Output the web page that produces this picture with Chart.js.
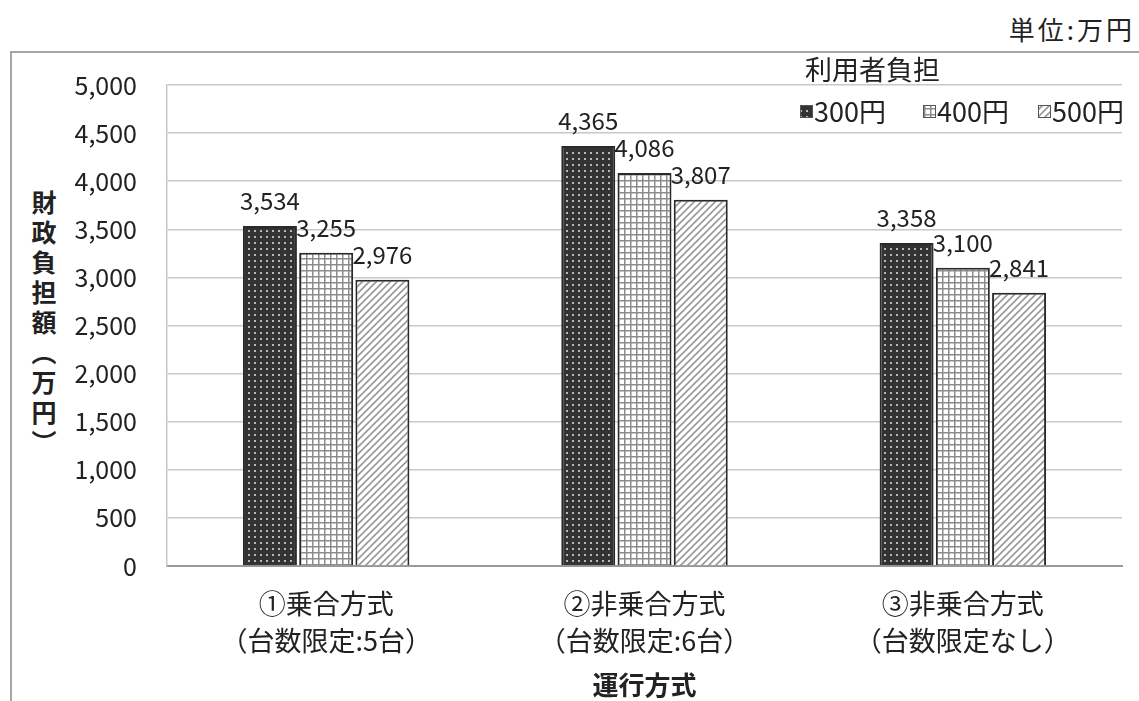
<!DOCTYPE html>
<html>
<head>
<meta charset="utf-8">
<script src="https://cdn.jsdelivr.net/npm/chart.js@4/dist/chart.umd.min.js"></script>
<style>
  html, body { margin: 0; padding: 0; background: #fff; }
  #wrap { position: relative; width: 1139px; height: 701px; overflow: hidden; font-family: "Noto Sans CJK JP", sans-serif; color: #222; }
  #frame { position: absolute; left: 10px; top: 51px; width: 1200px; height: 700px; border: 2px solid #a6a6a6; box-sizing: border-box; }
  #unit { position: absolute; right: 4px; top: 14px; font-size: 26px; line-height: 30px; letter-spacing: 3px; }
  #ytitle { position: absolute; left: 29px; top: 190px; writing-mode: vertical-rl; text-orientation: upright; font-size: 25px; font-weight: bold; line-height: 30px; letter-spacing: 5px; }
  canvas { position: absolute; left: 0; top: 0; }
</style>
</head>
<body>
<div id="wrap">
  <div id="frame"></div>
  <div id="unit">単位:万円</div>
  <div id="ytitle">財政負担額（万円）</div>
  <canvas id="chart" width="1139" height="701"></canvas>
</div>
<script>
// categories (運行方式)
const categories = [
  ["①乗合方式", "（台数限定:5台）"],
  ["②非乗合方式", "（台数限定:6台）"],
  ["③非乗合方式", "（台数限定なし）"]
];
// user burden series
const seriesNames = ["300円", "400円", "500円"];
const fare300 = [3534, 4365, 3358];
const fare400 = [3255, 4086, 3100];
const fare500 = [2976, 3807, 2841];
const legendTitle = "利用者負担";
const xTitle = "運行方式";

const FONT = '"Noto Sans CJK JP", sans-serif';

// little pattern tiles for the bar fills
function dotPattern() {
  const c = document.createElement('canvas');
  c.width = 6; c.height = 6;
  const g = c.getContext('2d');
  g.fillStyle = '#333';
  g.fillRect(0, 0, 6, 6);
  g.fillStyle = '#b8b8b8';
  g.fillRect(2, 2, 2, 2);
  return g.createPattern(c, 'repeat');
}
function gridPattern() {
  const c = document.createElement('canvas');
  c.width = 6; c.height = 6;
  const g = c.getContext('2d');
  g.fillStyle = '#fff';
  g.fillRect(0, 0, 6, 6);
  g.fillStyle = '#8c8c8c';
  g.fillRect(0, 0, 6, 1.5);
  g.fillRect(0, 0, 1.5, 6);
  return g.createPattern(c, 'repeat');
}
function hatchPattern() {
  const c = document.createElement('canvas');
  c.width = 7; c.height = 7;
  const g = c.getContext('2d');
  g.fillStyle = '#fff';
  g.fillRect(0, 0, 7, 7);
  g.strokeStyle = '#999';
  g.lineWidth = 1.6;
  g.beginPath();
  g.moveTo(-1, 8); g.lineTo(8, -1);
  g.moveTo(-1, 1); g.lineTo(1, -1);
  g.moveTo(6, 8); g.lineTo(8, 6);
  g.stroke();
  return g.createPattern(c, 'repeat');
}
const fills = [dotPattern(), gridPattern(), hatchPattern()];

// value labels above each bar
const valueLabels = {
  id: 'valueLabels',
  afterDatasetsDraw(chart) {
    const ctx = chart.ctx;
    ctx.save();
    ctx.font = '24px ' + FONT;
    ctx.fillStyle = '#222';
    ctx.textAlign = 'center';
    ctx.textBaseline = 'middle';
    chart.data.datasets.forEach((ds, i) => {
      chart.getDatasetMeta(i).data.forEach((bar, j) => {
        ctx.fillText(ds.data[j].toLocaleString('en-US'), bar.x, bar.y - 25);
      });
    });
    ctx.restore();
  }
};

// legend drawn inside the plot, top right
const boxLegend = {
  id: 'boxLegend',
  afterDraw(chart) {
    const ctx = chart.ctx;
    ctx.save();
    ctx.font = '27px ' + FONT;
    ctx.fillStyle = '#222';
    ctx.textBaseline = 'middle';
    ctx.fillText(legendTitle, 805, 70);
    const xs = [800, 923, 1038];
    chart.data.datasets.forEach((ds, i) => {
      ctx.fillStyle = ds.backgroundColor;
      ctx.fillRect(xs[i], 105, 13, 13);
      ctx.strokeStyle = '#555';
      ctx.lineWidth = 1;
      ctx.strokeRect(xs[i] + 0.5, 105.5, 12, 12);
      ctx.fillStyle = '#222';
      ctx.fillText(ds.label, xs[i] + 14, 112);
    });
    ctx.restore();
  }
};

new Chart(document.getElementById('chart'), {
  type: 'bar',
  data: {
    labels: categories,
    datasets: [
      { label: seriesNames[0], data: fare300, backgroundColor: fills[0] },
      { label: seriesNames[1], data: fare400, backgroundColor: fills[1] },
      { label: seriesNames[2], data: fare500, backgroundColor: fills[2] }
    ].map(d => Object.assign(d, { borderColor: '#2a2a2a', borderWidth: 2, categoryPercentage: 0.53, barPercentage: 0.96 }))
  },
  options: {
    responsive: false,
    animation: false,
    layout: { padding: { left: 0, top: 85, right: 17, bottom: 0 } },
    plugins: { legend: { display: false }, tooltip: { enabled: false } },
    scales: {
      x: {
        grid: { display: false, drawTicks: false },
        border: { color: '#999', width: 2 },
        ticks: { color: '#222', padding: 20, font: { family: FONT, size: 27, lineHeight: 1.34 } },
        title: { display: true, text: xTitle, color: '#222', font: { family: FONT, size: 26, weight: 'bold' }, padding: { top: 0, bottom: 0 } },
        afterFit(scale) { scale.height = 135; }
      },
      y: {
        min: 0,
        max: 5000,
        grid: { color: '#c8c8c8', lineWidth: 1.5, drawTicks: false },
        border: { display: true, color: '#c8c8c8', width: 1.5 },
        ticks: {
          stepSize: 500,
          color: '#222',
          padding: 30,
          font: { family: FONT, size: 25 },
          callback: v => v.toLocaleString('en-US')
        },
        afterFit(scale) { scale.width = 167; }
      }
    }
  },
  plugins: [valueLabels, boxLegend]
});
</script>
</body>
</html>
